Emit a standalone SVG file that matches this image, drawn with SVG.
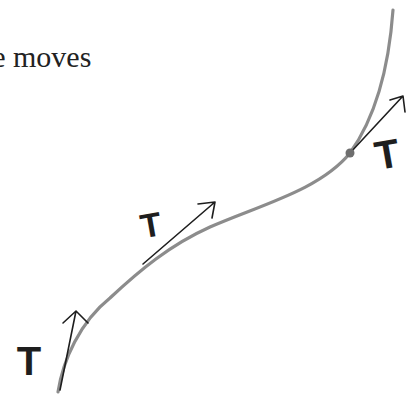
<svg xmlns="http://www.w3.org/2000/svg" width="408" height="396" viewBox="0 0 408 396">
<style>
.curve{fill:none;stroke:#8c8c8c;stroke-width:3.2;stroke-linecap:round;stroke-linejoin:round}
.arrow{fill:none;stroke:#1e1e1e;stroke-width:1.6;stroke-linecap:round;stroke-linejoin:round}
.lbl{font-family:"Liberation Sans",Arial,sans-serif;font-weight:bold;fill:#1e1e1e;text-anchor:middle}
.cap{font-family:"Liberation Serif","Times New Roman",serif;font-size:30px;fill:#222}
</style>
<rect width="408" height="396" fill="#fff"/>
<text class="cap" x="-7.8" y="67">e moves</text>
<g id="connectors">
<path id="curve" class="curve" d="M58,392 C63,360 80,322 110,298 C140,270 170,245 210,227 C260,205 320,190 350,153 C370,125 388,80 393,10"/>
<path class="arrow" d="M60,390 L76,311 M63,323 L76,311 L88,323"/>
<path class="arrow" d="M143,264 L215,202 M198,204 L215,202 L212,218"/>
<path class="arrow" d="M350,153 L403,96 M390,100 L403,96 L405,112"/>
</g>
<g id="point"><circle cx="350" cy="153" r="4.5" fill="#6e6e6e"/></g>
<g id="label1"><text class="lbl" x="29" y="375" font-size="40">T</text></g>
<g id="label2"><text class="lbl" x="151" y="237" font-size="34" transform="rotate(-10 151 225)">T</text></g>
<g id="label3"><text class="lbl" x="387" y="168" font-size="40" transform="rotate(-10 387 153)">T</text></g>
</svg>
